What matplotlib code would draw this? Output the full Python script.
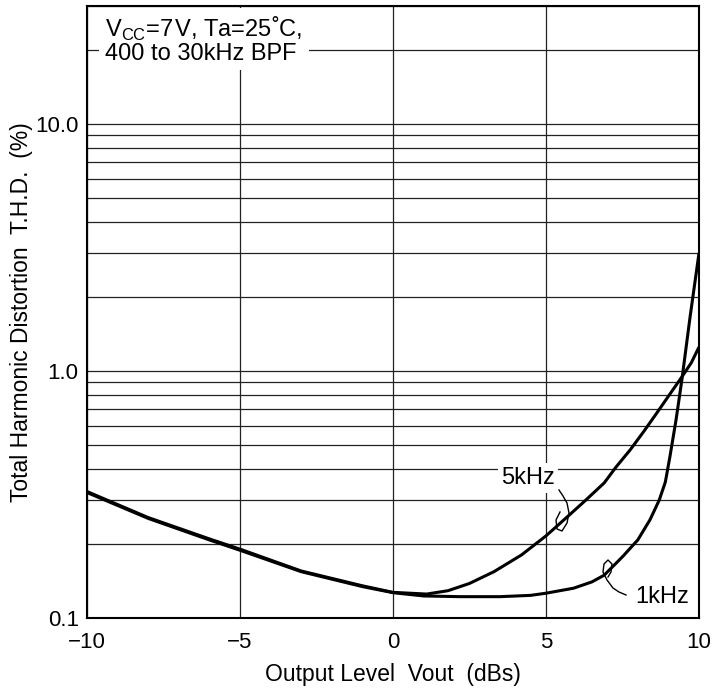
import matplotlib
matplotlib.use('Agg')
import matplotlib.pyplot as plt
from matplotlib.ticker import LogLocator, NullFormatter, FixedLocator

plt.rcParams['font.family'] = ['Liberation Sans', 'DejaVu Sans']
plt.rcParams['mathtext.fontset'] = 'custom'
plt.rcParams['mathtext.rm'] = 'Liberation Sans'

# Output level (dBs) and THD (%)
x_1k = [-10, -8, -6, -5, -3, -1, 0, 1, 2.2, 3.5, 4.5, 5, 5.9, 6.5, 6.9,
        7.5, 8.0, 8.4, 8.7, 8.9, 9.05, 9.25, 9.44, 9.71, 10]
y_1k = [0.322, 0.253, 0.207, 0.188, 0.154, 0.134, 0.1266, 0.1228, 0.122, 0.122,
        0.1235, 0.126, 0.132, 0.14, 0.149, 0.177, 0.207, 0.25, 0.30, 0.355,
        0.45, 0.634, 0.92, 1.66, 3.0]

x_5k = [-10, -8, -6, -5, -3, -1, 0, 1.1, 1.8, 2.5, 3.3, 4.2, 5, 5.7, 6.3,
        6.9, 7.3, 7.75, 8.2, 8.6, 9.0, 9.45, 9.75, 10]
y_5k = [0.325, 0.255, 0.209, 0.19, 0.155, 0.135, 0.127, 0.125, 0.129, 0.138,
        0.154, 0.18, 0.215, 0.257, 0.30, 0.352, 0.41, 0.479, 0.57, 0.67,
        0.79, 0.95, 1.08, 1.25]

x_ticks = [-10, -5, 0, 5, 10]
y_ticks = [0.1, 1.0, 10.0]
y_tick_labels = ['0.1', '1.0', '10.0']

fig = plt.figure(figsize=(7.15, 6.92), dpi=100)
ax = fig.add_axes([87 / 715, 74 / 692, 612 / 715, 612 / 692])

ax.plot(x_1k, y_1k, color='black', lw=2.2, solid_capstyle='butt', zorder=4)
ax.plot(x_5k, y_5k, color='black', lw=2.2, solid_capstyle='butt', zorder=4)

ax.set_yscale('log')
ax.set_xlim(-10, 10)
ax.set_ylim(0.1, 30)

ax.xaxis.set_major_locator(FixedLocator(x_ticks))
ax.set_yticks(y_ticks)
ax.set_yticklabels(y_tick_labels)
ax.yaxis.set_minor_locator(LogLocator(base=10, subs=[2, 3, 4, 5, 6, 7, 8, 9]))
ax.yaxis.set_minor_formatter(NullFormatter())

ax.grid(True, which='major', color='#222222', lw=0.9)
ax.grid(True, which='minor', axis='y', color='#222222', lw=0.9)
ax.tick_params(which='both', length=0, labelsize=16)
ax.tick_params(axis='x', pad=10)
ax.tick_params(axis='y', pad=6)
for s in ax.spines.values():
    s.set_linewidth(1.5)

ax.set_xlabel('Output Level  Vout  (dBs)', fontsize=16.5, labelpad=7)
ax.set_ylabel('Total Harmonic Distortion  T.H.D.  (%)', fontsize=16.5, labelpad=2)

ax.text(0.03, 0.985, 'V$_{\\mathrm{CC}}$=7\u200aV, Ta=25˚C,\n400 to 30kHz BPF',
        transform=ax.transAxes, fontsize=17, va='top', ha='left',
        linespacing=0.95, zorder=5,
        bbox=dict(boxstyle='square,pad=0.25', fc='white', ec='none'))


def px(p):
    # pixel position inside the 612x612 plot area -> axes fraction
    return ((p[0] - 87) / 612, (618 - p[1]) / 612)


# curve labels with hooked leaders
ax.text(*px((528, 478)), '5kHz', transform=ax.transAxes, fontsize=17,
        ha='center', va='center', zorder=5,
        bbox=dict(boxstyle='square,pad=0.15', fc='white', ec='none'))
lead5 = [(559, 490), (563, 496), (567, 503), (569, 513), (567, 523), (562, 531),
         (557, 529), (556, 520), (560, 512)]
ax.plot(*zip(*[px(p) for p in lead5]), transform=ax.transAxes, color='black', lw=1.0, zorder=5)

ax.text(*px((662, 597)), '1kHz', transform=ax.transAxes, fontsize=17,
        ha='center', va='center', zorder=5)
lead1 = [(626, 595), (619, 592), (613, 588), (607, 580), (603, 572), (604, 564),
         (608, 560), (612, 564), (611, 572), (608, 577)]
ax.plot(*zip(*[px(p) for p in lead1]), transform=ax.transAxes, color='black', lw=1.0, zorder=5)

fig.savefig('out.png', dpi=100)
